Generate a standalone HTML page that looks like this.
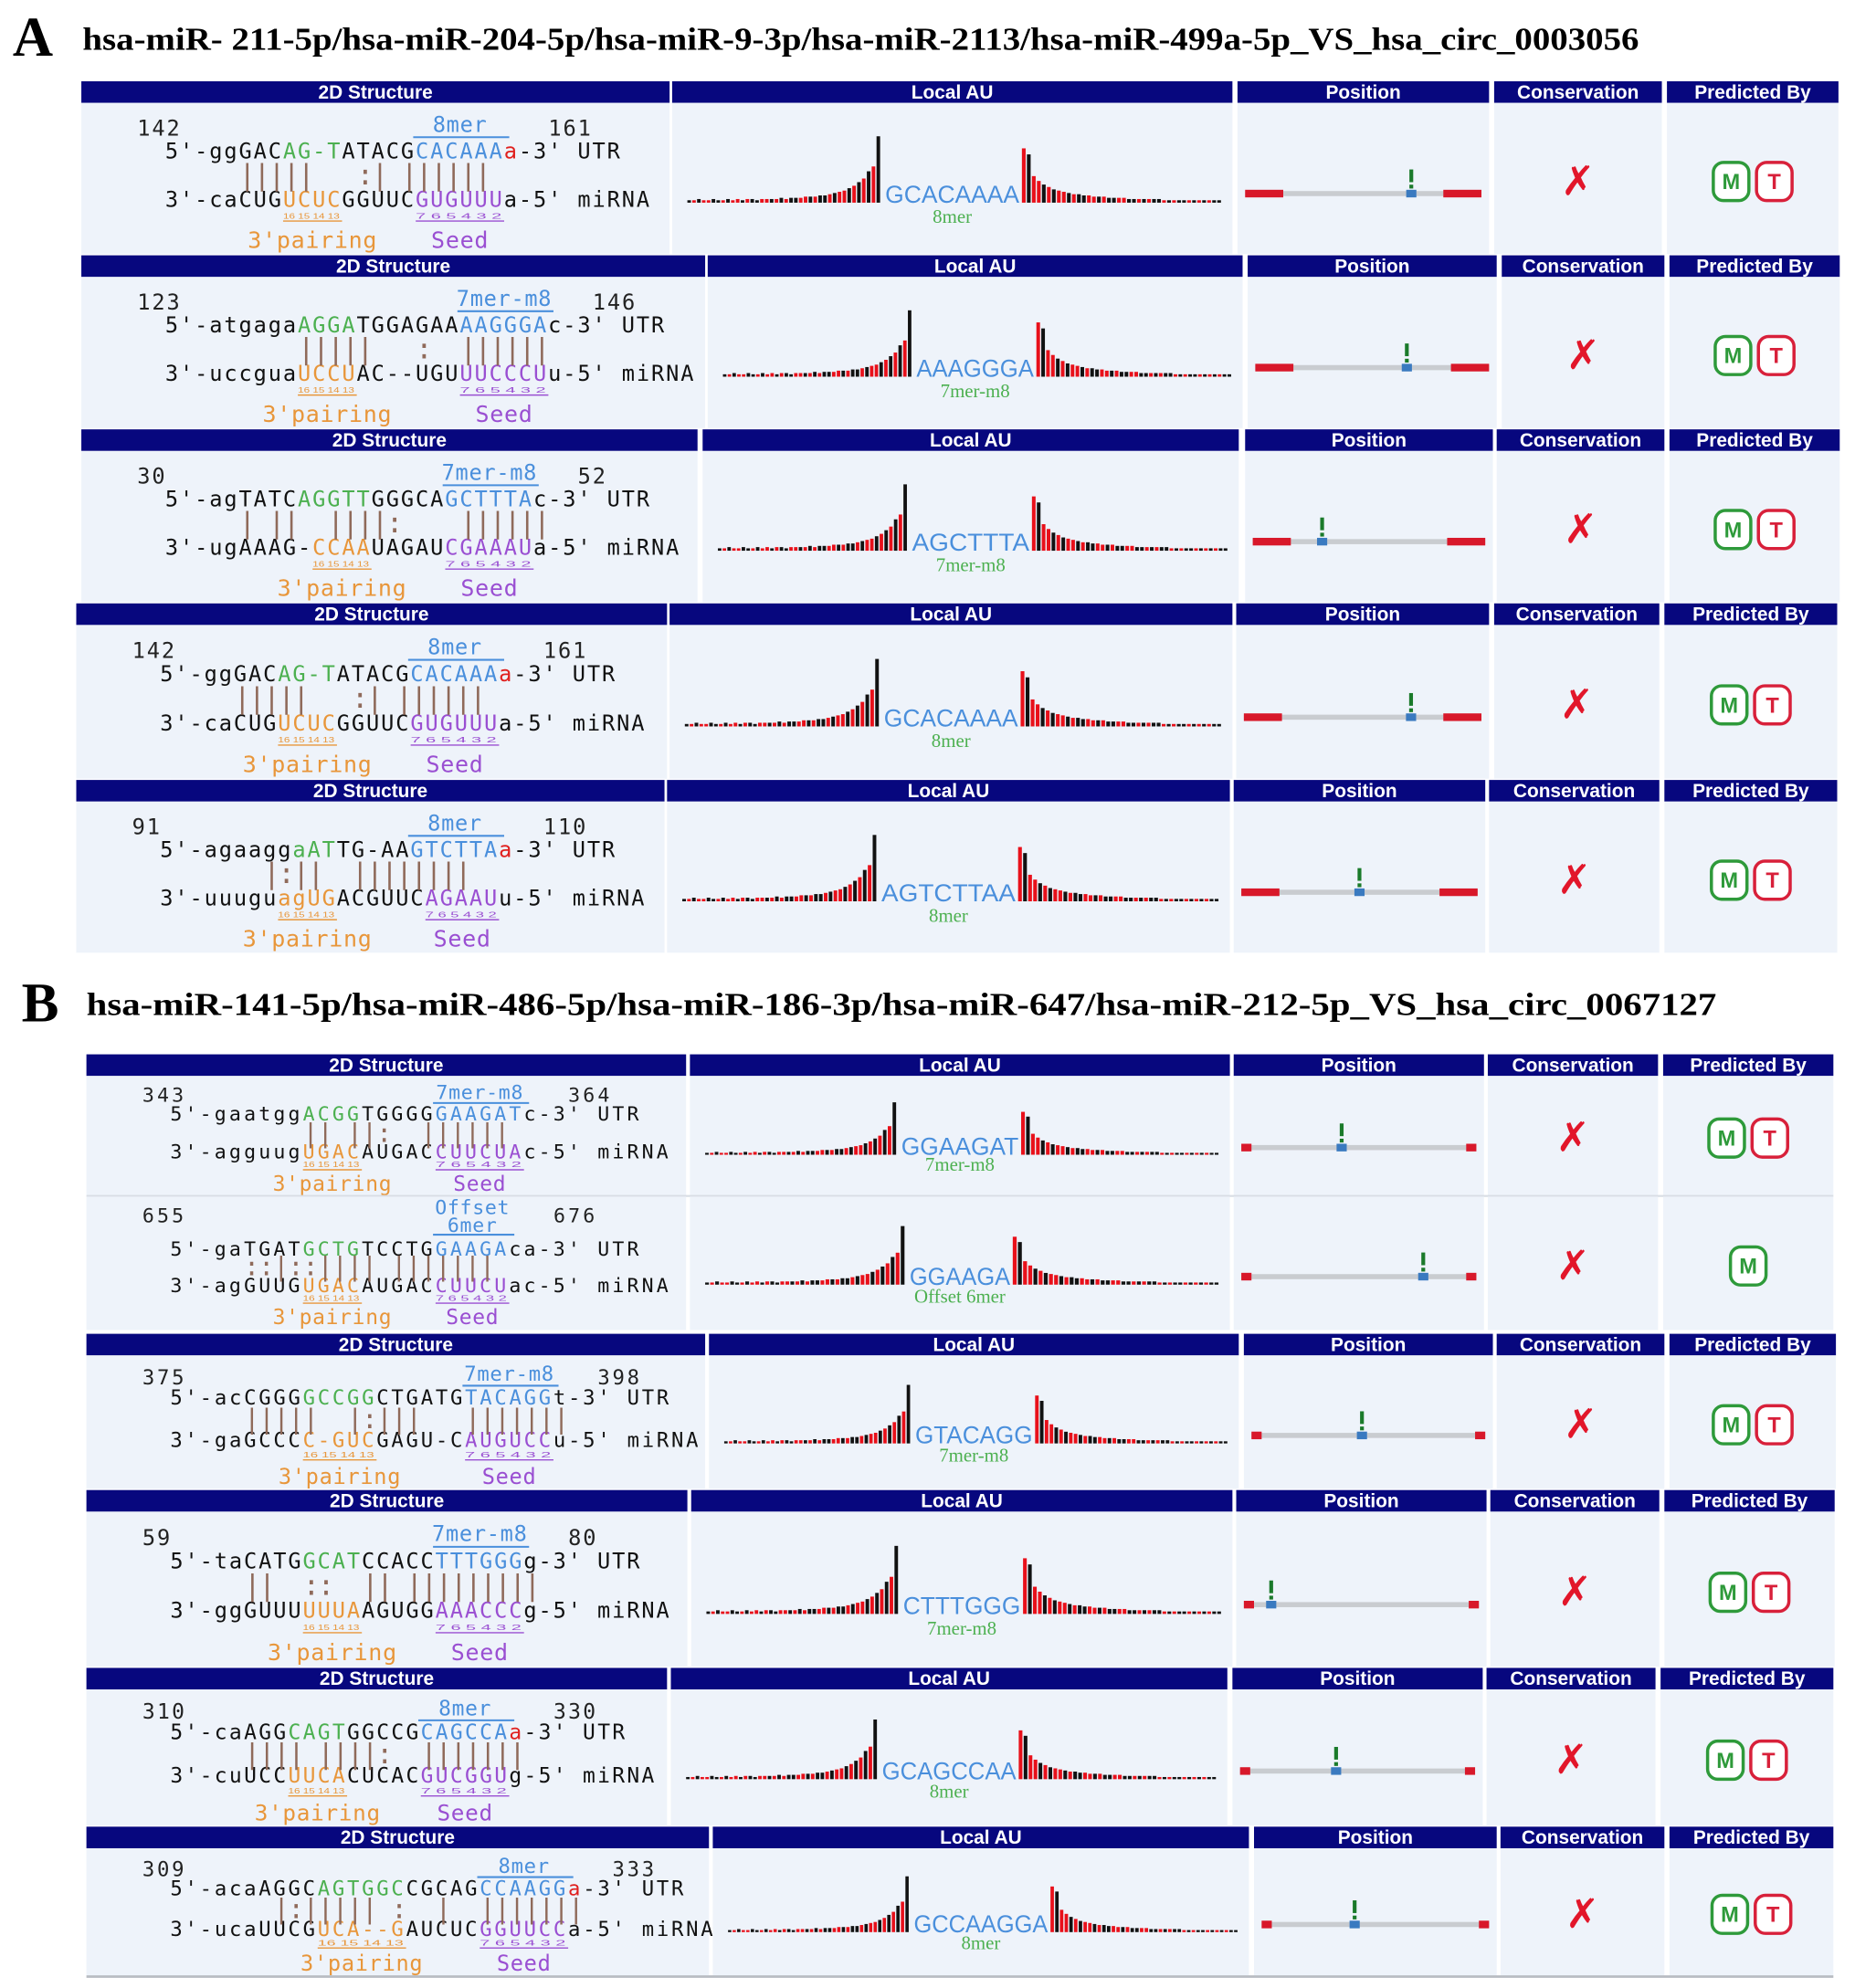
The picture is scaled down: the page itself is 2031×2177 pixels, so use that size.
<!DOCTYPE html>
<html><head><meta charset="utf-8"><style>
html,body{margin:0;padding:0;background:#fff;overflow:hidden}
svg{display:block}
</style></head><body>
<svg id="fig" width="2031" height="2177" viewBox="0 0 1460 1565" xmlns="http://www.w3.org/2000/svg">
<rect width="1460" height="1565" fill="#fff"/>
<text x="10" y="44" font-family="Liberation Serif, serif" font-weight="bold" font-size="44">A</text>
<text x="65" y="39" font-family="Liberation Serif, serif" font-weight="bold" font-size="25" textLength="1225" lengthAdjust="spacingAndGlyphs">hsa-miR- 211-5p/hsa-miR-204-5p/hsa-miR-9-3p/hsa-miR-2113/hsa-miR-499a-5p_VS_hsa_circ_0003056</text>
<text x="17" y="804" font-family="Liberation Serif, serif" font-weight="bold" font-size="44">B</text>
<text x="68" y="799" font-family="Liberation Serif, serif" font-weight="bold" font-size="25" textLength="1283" lengthAdjust="spacingAndGlyphs">hsa-miR-141-5p/hsa-miR-486-5p/hsa-miR-186-3p/hsa-miR-647/hsa-miR-212-5p_VS_hsa_circ_0067127</text>
<g id="rows"></g>
</svg>
<script>
// Local AU bar heights (left of site, far -> near; right of site, near -> far)
const leftAU = [2,2,3,2,2,3,2,2,3,2,3,2,3,3,2,3,3,3,3,4,3,4,4,4,5,5,5,6,6,7,8,9,10,12,14,17,20,26,30,55];
const rightAU = [45,40,22,18,15,13,11,10,9,8,7,7,6,6,5,5,5,4,4,4,4,3,3,3,3,3,3,3,2,2,2,2,2,2,2,2,2,2,2,2];
const leftColors = "krkrrkkrkrrkrkkrrkrkrkkrrkrkkrkrrkrkrkrk";
const rightColors = "rkrrkrkrrkrkkrrkrkkrrkkrkrkkrkrkkrkrkrkk";
// Site position within transcript (fraction)
const sitePos = [0.8, 0.72, 0.2, 0.8, 0.5, 0.42, 0.8, 0.47, 0.08, 0.4, 0.4];

const C = {k:'#111',g:'#4cb050',b:'#4a8fdc',r:'#e0201e',o:'#e8963a',p:'#9a4fd2'};
const rowsCfg = [
 {hy:64,bot:200,cols:[[64,527],[529,970],[974,1172],[1176,1308],[1312,1447]],fs:17,
  s:142,e:161,type:['8mer'],au:'GCACAAAA',T:true,
  utr:[["5'-ggGAC",'k'],["AG-T",'g'],["ATACG",'k'],["CACAAA",'b'],["a",'r'],["-3' UTR",'k']],
  pair:"     |||||   :| ||||||",
  mi:[["3'-caCUG",'k'],["UCUC",'o'],["GGUUC",'k'],["GUGUUU",'p'],["a-5' miRNA",'k']]},
 {hy:201,bot:337,cols:[[64,555],[557,978],[982,1178],[1182,1310],[1314,1448]],fs:17,
  s:123,e:146,type:['7mer-m8'],au:'AAAGGGA',T:true,
  utr:[["5'-atgaga",'k'],["AGGA",'g'],["TGGAGAA",'k'],["AAGGGA",'b'],["c-3' UTR",'k']],
  pair:"         |||||   :  ||||||",
  mi:[["3'-uccgua",'k'],["UCCU",'o'],["AC--UGU",'k'],["UUCCCU",'p'],["u-5' miRNA",'k']]},
 {hy:338,bot:474,cols:[[64,549],[553,975],[980,1175],[1178,1310],[1314,1448]],fs:17,
  s:30,e:52,type:['7mer-m8'],au:'AGCTTTA',T:true,
  utr:[["5'-agTATC",'k'],["AGGTT",'g'],["GGGCA",'k'],["GCTTTA",'b'],["c-3' UTR",'k']],
  pair:"     | ||  ||||:    ||||||",
  mi:[["3'-ugAAAG-",'k'],["CCAA",'o'],["UAGAU",'k'],["CGAAAU",'p'],["a-5' miRNA",'k']]},
 {hy:475,bot:613,cols:[[60,525],[527,970],[973,1172],[1176,1306],[1310,1446]],fs:17,
  s:142,e:161,type:['8mer'],au:'GCACAAAA',T:true,
  utr:[["5'-ggGAC",'k'],["AG-T",'g'],["ATACG",'k'],["CACAAA",'b'],["a",'r'],["-3' UTR",'k']],
  pair:"     |||||   :| ||||||",
  mi:[["3'-caCUG",'k'],["UCUC",'o'],["GGUUC",'k'],["GUGUUU",'p'],["a-5' miRNA",'k']]},
 {hy:614,bot:750,cols:[[60,523],[525,968],[971,1169],[1172,1306],[1310,1446]],fs:17,
  s:91,e:110,type:['8mer'],au:'AGTCTTAA',T:true,
  utr:[["5'-agaagg",'k'],["aAT",'g'],["TG-AA",'k'],["GTCTTA",'b'],["a",'r'],["-3' UTR",'k']],
  pair:"       |:||  ||||||||",
  mi:[["3'-uuugu",'k'],["agUG",'o'],["ACGUUC",'k'],["AGAAU",'p'],["u-5' miRNA",'k']]},
 {hy:830,bot:941,cols:[[68,540],[543,968],[971,1168],[1171,1305],[1309,1443]],fs:15.5,
  s:343,e:364,type:['7mer-m8'],au:'GGAAGAT',T:true,
  utr:[["5'-gaatgg",'k'],["ACGG",'g'],["TGGGG",'k'],["GAAGAT",'b'],["c-3' UTR",'k']],
  pair:"         || ||:  ||||||",
  mi:[["3'-agguug",'k'],["UGAC",'o'],["AUGAC",'k'],["CUUCUA",'p'],["c-5' miRNA",'k']]},
 {hy:null,top:942,bot:1047,cols:[[68,540],[543,968],[971,1168],[1171,1305],[1309,1443]],fs:15.5,
  s:655,e:676,type:['Offset','6mer'],au:'GGAAGA',T:false,
  utr:[["5'-gaTGAT",'k'],["GCTG",'g'],["TCCTG",'k'],["GAAGA",'b'],["ca-3' UTR",'k']],
  pair:"     ::|::|||| |||||||",
  mi:[["3'-agGUUG",'k'],["UGAC",'o'],["AUGAC",'k'],["CUUCU",'p'],["ac-5' miRNA",'k']]},
 {hy:1050,bot:1172,cols:[[68,555],[558,975],[979,1175],[1178,1310],[1314,1445]],fs:16,
  s:375,e:398,type:['7mer-m8'],au:'GTACAGG',T:true,
  utr:[["5'-acCGGG",'k'],["GCCGG",'g'],["CTGATG",'k'],["TACAGG",'b'],["t-3' UTR",'k']],
  pair:"     |||||  |:|||   |||||||",
  mi:[["3'-gaGCCC",'k'],["C-GUC",'o'],["GAGU-C",'k'],["AUGUCC",'p'],["u-5' miRNA",'k']]},
 {hy:1173,bot:1312,cols:[[68,541],[544,970],[973,1170],[1173,1306],[1310,1444]],fs:17,
  s:59,e:80,type:['7mer-m8'],au:'CTTTGGG',T:true,
  utr:[["5'-taCATG",'k'],["GCAT",'g'],["CCACC",'k'],["TTTGGG",'b'],["g-3' UTR",'k']],
  pair:"     ||  ::  || |||||||||",
  mi:[["3'-ggGUUU",'k'],["UUUA",'o'],["AGUGG",'k'],["AAACCC",'p'],["g-5' miRNA",'k']]},
 {hy:1313,bot:1437,cols:[[68,525],[528,966],[970,1167],[1170,1303],[1307,1443]],fs:16.5,
  s:310,e:330,type:['8mer'],au:'GCAGCCAA',T:true,
  utr:[["5'-caAGG",'k'],["CAGT",'g'],["GGCCG",'k'],["CAGCCA",'b'],["a",'r'],["-3' UTR",'k']],
  pair:"     |||| ||||:  |||||||",
  mi:[["3'-cuUCC",'k'],["UUCA",'o'],["CUCAC",'k'],["GUCGGU",'p'],["g-5' miRNA",'k']]},
 {hy:1438,bot:1555,cols:[[68,558],[561,983],[987,1178],[1181,1310],[1314,1443]],fs:16,
  s:309,e:333,type:['8mer'],au:'GCCAAGGA',T:true,
  utr:[["5'-acaAGGC",'k'],["AGTGGC",'g'],["CGCAG",'k'],["CCAAGG",'b'],["a",'r'],["-3' UTR",'k']],
  pair:"       |:||||| :  |  |||||||",
  mi:[["3'-ucaUUCG",'k'],["UCA--G",'o'],["AUCUC",'k'],["GGUUCC",'p'],["a-5' miRNA",'k']]}
];
const headers = ['2D Structure','Local AU','Position','Conservation','Predicted By'];
const NS='http://www.w3.org/2000/svg';
const root=document.getElementById('rows');
function mk(tag,attrs,parent){const e=document.createElementNS(NS,tag);for(const k in attrs)e.setAttribute(k,attrs[k]);(parent||root).appendChild(e);return e;}
const CW=11.6;

rowsCfg.forEach((r,ri)=>{
  const g=mk('g',{});
  
  
  let T;
  if(r.hy!==null){
    r.cols.forEach((c,ci)=>{
      const h=mk('rect',{x:c[0],y:r.hy,width:c[1]-c[0],height:17,fill:'#07077e'},g);
      
      
      const t=mk('text',{x:(c[0]+c[1])/2,y:r.hy+13.5,'text-anchor':'middle',fill:'#fff','font-family':'Liberation Sans, sans-serif','font-weight':'bold','font-size':15},g);
      t.textContent=headers[ci];
      
      
    });
    T=r.hy+17;
  } else {
    T=r.top;
    mk('line',{x1:r.cols[0][0],x2:r.cols[4][1],y1:T-0.5,y2:T-0.5,stroke:'#d8dde4','stroke-width':1.5},g);
  }
  const H=r.bot-T, f=H/119;
  r.cols.forEach(c=>{
    const b=mk('rect',{x:c[0],y:T,width:c[1]-c[0],height:H,fill:'#eef3fa'},g);
    
    
  });
  // ---- 2D structure
  const x0=r.cols[0][0]+66;
  const mono={'font-family':'DejaVu Sans Mono, Liberation Mono, monospace','font-size':r.fs,'letter-spacing':CW-0.602*r.fs};
  const two=r.type.length>1;
  const sh=two?8:0;
  const yNum=T+20*f+(two?-2:0), yU=T+38*f+sh, yP=T+57*f+sh*0.6, yM=T+76*f+sh*0.4, yTiny=T+91*f+sh*0.2, yL=T+108*f;
  function line(segs,y,name){
    const t=mk('text',Object.assign({x:x0,y:y,'dominant-baseline':'central'},mono),g);
    
    
    let idx=0;const pos={};
    segs.forEach(s=>{const ts=mk('tspan',{fill:C[s[1]]},t);ts.textContent=s[0];
      if(s[1]!=='k'&&s[1]!=='r'){pos[s[1]]=[idx,idx+s[0].length];}idx+=s[0].length;});
    return pos;
  }
  const pu=line(r.utr,yU,'utr-sequence');
  const pm=line(r.mi,yM,'mirna-sequence');
  const pfs=r.fs*1.3;
  const pt=mk('text',Object.assign({x:x0,y:yP,'dominant-baseline':'central',fill:'#8f6a5a'},mono,{'font-size':pfs,'letter-spacing':CW-0.602*pfs}),g);
  pt.textContent=r.pair.replace(/ /g,'\u00a0');
  
  
  const n1=mk('text',Object.assign({x:r.cols[0][0]+44,y:yNum,'dominant-baseline':'central',fill:'#222'},mono),g);
  n1.textContent=r.s;
  
  
  const bs=pu.b[0],be=pu.b[1];
  const n2=mk('text',Object.assign({x:x0+(be+3)*CW,y:yNum,'dominant-baseline':'central',fill:'#222'},mono),g);
  n2.textContent=r.e;
  
  
  const bc=x0+(bs+be)/2*CW;
  r.type.forEach((tt,ti)=>{
    const yy=two?(T+9+ti*14):yNum-3*f;
    const t=mk('text',Object.assign({x:bc,y:yy,'text-anchor':'middle','dominant-baseline':'central',fill:C.b},mono,{'letter-spacing':0.5}),g);
    t.textContent=tt;
    
    
  });
  const ul=two?T+30:yNum+7*f;
  mk('line',{x1:x0+bs*CW-2,x2:x0+be*CW+4,y1:ul,y2:ul,stroke:C.b,'stroke-width':1.5},g);
  // tiny numbers + labels
  [['o','16 15 14 13',"3'pairing"],['p','7 6 5 4 3 2','Seed']].forEach(a=>{
    const p=pm[a[0]];const xa=x0+p[0]*CW, xb=x0+p[1]*CW;
    const tn=mk('text',{x:xa,y:yTiny,'font-size':6,'font-family':'Liberation Sans, sans-serif',fill:C[a[0]],textLength:xb-xa-2,lengthAdjust:'spacingAndGlyphs'},g);
    tn.textContent=a[1];
    
    
    mk('line',{x1:xa,x2:xb,y1:yTiny+2,y2:yTiny+2,stroke:C[a[0]],'stroke-width':1},g);
    const tl=mk('text',Object.assign({x:(xa+xb)/2,y:yL,'text-anchor':'middle','dominant-baseline':'central',fill:C[a[0]]},mono,{'letter-spacing':0.5,'font-size':r.fs+1}),g);
    tl.textContent=a[2];
    
    
  });
  // ---- Local AU chart
  const c1=r.cols[1], mid=(c1[0]+c1[1])/2, base=T+0.66*H;
  const tw=r.au.length*13.2;
  const at=mk('text',{x:mid-tw/2,y:base,fill:C.b,'font-family':'Liberation Sans, sans-serif','font-size':19,textLength:tw,lengthAdjust:'spacingAndGlyphs'},g);
  at.textContent=r.au;
  
  
  const tl2=r.type.join(' ');
  const al=mk('text',{x:mid,y:base+16*f,'text-anchor':'middle',fill:C.g,'font-family':'Liberation Serif, serif','font-size':15},g);
  al.textContent=tl2;
  
  
  const hs=f*0.95;
  const lx0=c1[0]+12, lx1=mid-tw/2-3, lw=(lx1-lx0)/leftAU.length;
  leftAU.forEach((v,i)=>{
    const b=mk('rect',{x:lx0+i*lw,y:base-v*hs,width:Math.max(lw-1,1.5),height:v*hs,fill:leftColors[i]==='r'?'#e8101a':'#111'},g);
    
    
  });
  const rx0=mid+tw/2+2, rx1=c1[1]-8, rw=(rx1-rx0)/rightAU.length;
  rightAU.forEach((v,i)=>{
    const b=mk('rect',{x:rx0+i*rw,y:base-v*hs,width:Math.max(rw-1,1.5),height:v*hs,fill:rightColors[i]==='r'?'#e8101a':'#111'},g);
    
    
  });
  // ---- Position
  const c2=r.cols[2], py=T+0.6*H, px0=c2[0]+6, px1=c2[1]-6;
  const endW = ri<5 ? 30 : 8;
  const gl=mk('rect',{x:px0,y:py-2,width:px1-px0,height:4,fill:'#c9ccd0'},g);
  
  
  mk('rect',{x:px0,y:py-3,width:endW,height:6,fill:'#d8182a'},g);
  mk('rect',{x:px1-endW,y:py-3,width:endW,height:6,fill:'#d8182a'},g);
  const sx=px0+endW+sitePos[ri]*(px1-px0-2*endW);
  const mkr=mk('rect',{x:sx-4,y:py-3,width:8,height:6,fill:'#3a7ac0'},g);
  
  
  mk('rect',{x:sx-1.5,y:py-19,width:3,height:10,fill:'#1a7a2a'},g);
  mk('rect',{x:sx-1.5,y:py-7,width:3,height:3,fill:'#1a7a2a'},g);
  // ---- Conservation
  const c3=r.cols[3], cy=T+0.52*H;
  const x=mk('text',{x:(c3[0]+c3[1])/2,y:cy,'text-anchor':'middle','dominant-baseline':'central',fill:'#e2162a','font-family':'DejaVu Sans, sans-serif','font-weight':'bold','font-size':32},g);
  x.textContent='\u2717';
  
  
  // ---- Predicted by
  const c4=r.cols[4], m4=(c4[0]+c4[1])/2;
  const tools=r.T?[['M','#2e9a3a',m4-17],['T','#d8203a',m4+17]]:[['M','#2e9a3a',m4]];
  tools.forEach(t=>{
    const bx=mk('rect',{x:t[2]-14,y:cy-15,width:28,height:30,rx:8,fill:'#fff',stroke:t[1],'stroke-width':2.5},g);
    
    
    const tx=mk('text',{x:t[2],y:cy+1,'text-anchor':'middle','dominant-baseline':'central',fill:t[1],'font-family':'Liberation Sans, sans-serif','font-weight':'bold','font-size':17},g);
    tx.textContent=t[0];
  });
});
mk('line',{x1:68,x2:1443,y1:1556,y2:1556,stroke:'#b8bcc2','stroke-width':2});
</script>
</body></html>
